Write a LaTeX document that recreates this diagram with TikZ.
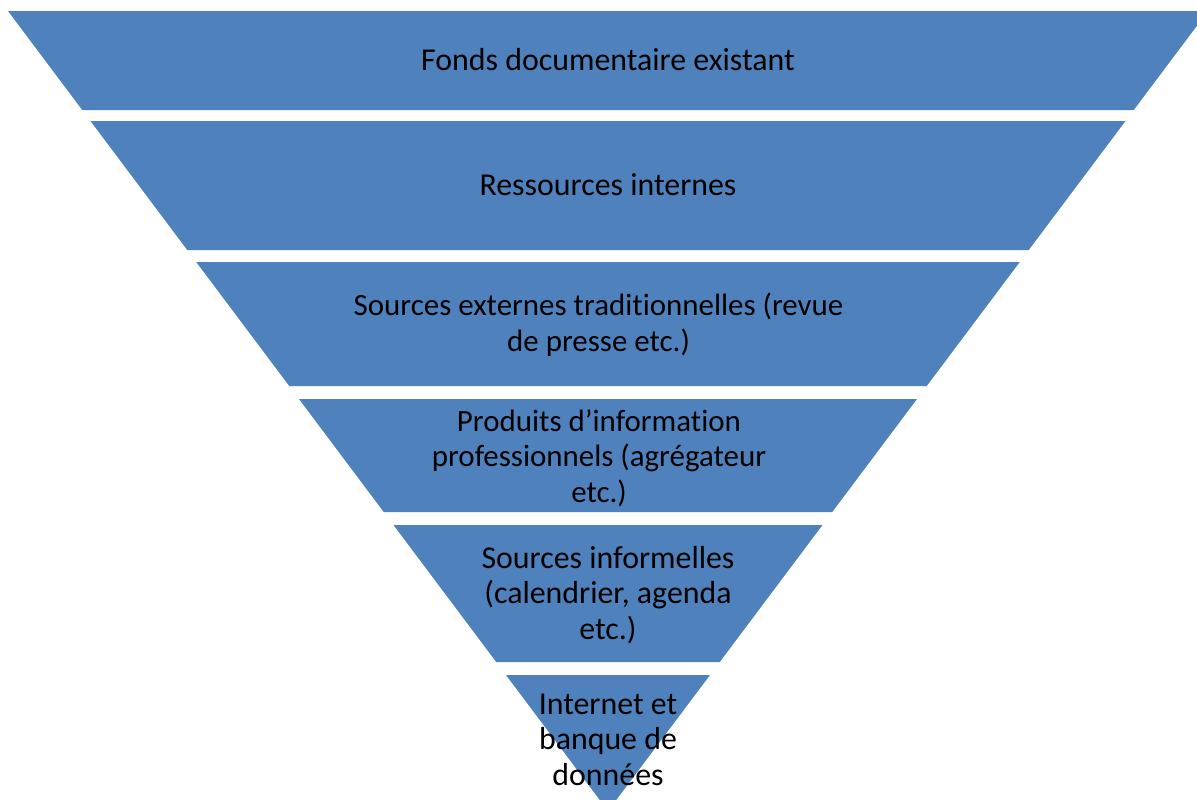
\documentclass[tikz,border=0pt]{standalone}
\usepackage{fontspec}
\setmainfont{Carlito}[Ligatures=NoCommon]
\definecolor{bandblue}{HTML}{4F81BD}
\tikzset{
  band/.style={fill=bandblue},
  lbl/.style={align=center, text=black, anchor=base, inner sep=0pt,
    font=\fontsize{23.9}{26.6}\selectfont},
  lblsmall/.style={lbl, font=\fontsize{23.2}{26.6}\selectfont}
}
\begin{document}
\begin{tikzpicture}[x=0.75pt,y=-0.75pt]
\useasboundingbox (0,0) rectangle (1197,800);
\clip (0,0) rectangle (1197,800);
\foreach \t/\b in {11/110,121/250,262/386,399/512,525/662,675/811}{
  \fill[band] ({608-0.75*(811-\t)},\t) -- ({608+0.75*(811-\t)},\t)
    -- ({608+0.75*(811-\b)},\b) -- ({608-0.75*(811-\b)},\b) -- cycle;
}
\node[lbl] (l1) at (608,70) {Fonds documentaire existant};
\node[lbl] (l2) at (608,195) {Ressources internes};
\node[lblsmall] (l3) at (598.5,351) {Sources externes traditionnelles (revue\\de presse etc.)};
\node[lblsmall] (l4) at (599,502) {Produits d’information\\professionnels (agrégateur\\etc.)};
\node[lbl] (l5) at (608,639) {Sources informelles\\(calendrier, agenda\\etc.)};
\node[lbl] (l6) at (608,785) {Internet et\\banque de\\données};
\end{tikzpicture}
\end{document}
